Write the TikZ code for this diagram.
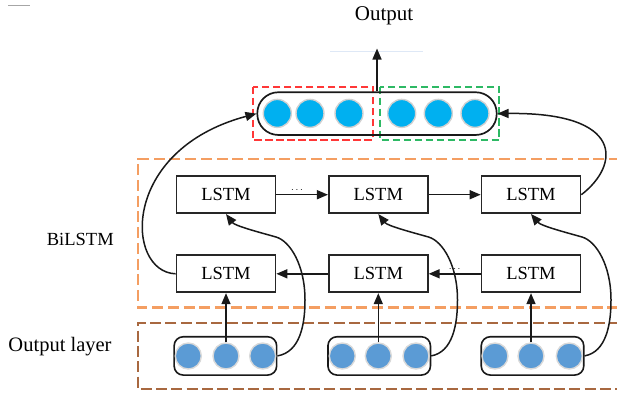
\documentclass[tikz,border=0pt]{standalone}
\usepackage{fontspec}
\setmainfont{Liberation Serif}
\usetikzlibrary{arrows.meta,calc}
\definecolor{topc}{RGB}{0,176,240}
\definecolor{botc}{RGB}{91,155,213}
\definecolor{orgc}{RGB}{244,158,98}
\definecolor{brwc}{RGB}{168,104,64}
\definecolor{redc}{RGB}{255,55,55}
\definecolor{grnc}{RGB}{45,185,100}
\definecolor{faintc}{RGB}{222,232,246}
\begin{document}
\begin{tikzpicture}[x=1pt,y=-1pt,
  arr/.style={line width=1.5pt, draw=black!90, -{Triangle[length=11pt,width=9pt]}},
  lstm/.style={draw=black!85, line width=1.7pt, minimum width=99pt, minimum height=37pt, inner sep=0pt, font=\fontsize{18.5}{20}\selectfont},
  tcirc/.style={circle, fill=topc, draw=black!18, line width=1.4pt, minimum size=28pt, inner sep=0pt},
  bcirc/.style={circle, fill=botc, draw=black!15, line width=1.4pt, minimum size=26pt, inner sep=0pt},
  bcap/.style={draw=black!90, line width=1.6pt, rounded corners=9pt, minimum width=102.5pt, minimum height=38.3pt, inner sep=0pt},
  orgdash/.style={draw=orgc, line width=2.2pt, dash pattern=on 11pt off 4.7pt},
  brwdash/.style={draw=brwc, line width=2.2pt, dash pattern=on 11pt off 4.3pt},
  reddash/.style={draw=redc, line width=1.7pt, dash pattern=on 7.5pt off 3.5pt},
  grndash/.style={draw=grnc, line width=1.7pt, dash pattern=on 7.5pt off 3.5pt},
  dotlbl/.style={above, inner sep=1.5pt, font=\fontsize{10}{10}\selectfont},
  lbl/.style={inner sep=0pt}
]
\useasboundingbox (0,0) rectangle (617,399);

% faint marks
\draw[black!35, line width=0.8pt] (8,5) -- (30,5);
\draw[faintc, line width=1pt] (330,51.7) -- (423,51.7);

% texts
\node[lbl, anchor=base, font=\fontsize{21}{24}\selectfont] (outlbl) at (384,20.7) {Output};
\node[lbl, anchor=base, font=\fontsize{18.5}{22}\selectfont] (bilbl) at (80.3,245) {BiLSTM};
\node[lbl, anchor=base west, font=\fontsize{20.5}{24}\selectfont] (ollbl) at (8.3,351.7) {Output layer};

% dashed regions
\draw[orgdash] (620,159.3) -- (138.3,159.3) -- (138.3,307.5) -- (620,307.5);
\draw[brwdash] (620,322.7) -- (138.3,322.7) -- (138.3,389.3) -- (620,389.3);
\draw[reddash] (252.7,86.7) rectangle (372.7,140);
\draw[grndash] (380,86.7) rectangle (499.3,140);

% top capsule
\node[draw=black!90, line width=1.7pt, rounded corners=21pt, minimum width=239.4pt, minimum height=42.7pt, inner sep=0pt] (top) at (377,113.6) {};
\node[tcirc] (o1) at (277.3,113.4) {};
\node[tcirc] (o2) at (310,113.4) {};
\node[tcirc] (o3) at (349,113.4) {};
\node[tcirc] (o4) at (401.7,113.4) {};
\node[tcirc] (o5) at (438.3,113.4) {};
\node[tcirc] (o6) at (475,113.4) {};
\coordinate (outtip) at (377,48.5);
\draw[arr] (top.north) -- (outtip);

% LSTM boxes
\node[lstm] (t1) at (226,194.7) {LSTM};
\node[lstm] (t2) at (378.3,194.7) {LSTM};
\node[lstm] (t3) at (531,194.7) {LSTM};
\node[lstm] (b1) at (226,273.8) {LSTM};
\node[lstm] (b2) at (378.3,273.8) {LSTM};
\node[lstm] (b3) at (531,273.8) {LSTM};

% bottom capsules
\node[bcap] (c1) at (225.4,355.9) {};
\node[bcap] (c2) at (379.2,355.9) {};
\node[bcap] (c3) at (532.5,355.9) {};
\node[bcirc] (c1a) at (188.3,356) {};
\node[bcirc] (c1b) at (226,356) {};
\node[bcirc] (c1c) at (262.7,356) {};
\node[bcirc] (c2a) at (342.3,356) {};
\node[bcirc] (c2b) at (378.3,356) {};
\node[bcirc] (c2c) at (416,356) {};
\node[bcirc] (c3a) at (495,356) {};
\node[bcirc] (c3b) at (531,356) {};
\node[bcirc] (c3c) at (569.3,356) {};

% vertical arrows
\draw[arr] (c1b.north) -- (c1b.north |- b1.south);
\draw[arr] (c2b.north) -- (c2b.north |- b2.south);
\draw[arr] (c3b.north) -- (c3b.north |- b3.south);

% horizontal arrows
\draw[arr] (t1.east) -- node[dotlbl, pos=0.4] {$\cdots$} (t2.west);
\draw[arr] (t2.east) -- (t3.west);
\draw[arr] (b3.west) -- node[dotlbl, pos=0.5] {$\cdots$} (b2.east);
\draw[arr] (b2.west) -- (b1.east);

% curves from capsules to top LSTMs
\foreach \i/\dx in {1/0,2/152.5,3/306}{
  \draw[arr] (c\i.east) .. controls (300+\dx,352) and (305+\dx,325) .. (305+\dx,300)
    .. controls (305+\dx,265) and (290+\dx,241) .. (276+\dx,237)
    .. controls (262+\dx,233) and (235+\dx,226) .. (t\i.south);
}

% curves to top capsule
\draw[arr] (b1.west) .. controls (125,272) and (120,150) .. (top.west);
\draw[arr] (t3.east) .. controls (620,165) and (625,112) .. (top.east);
\end{tikzpicture}
\end{document}
